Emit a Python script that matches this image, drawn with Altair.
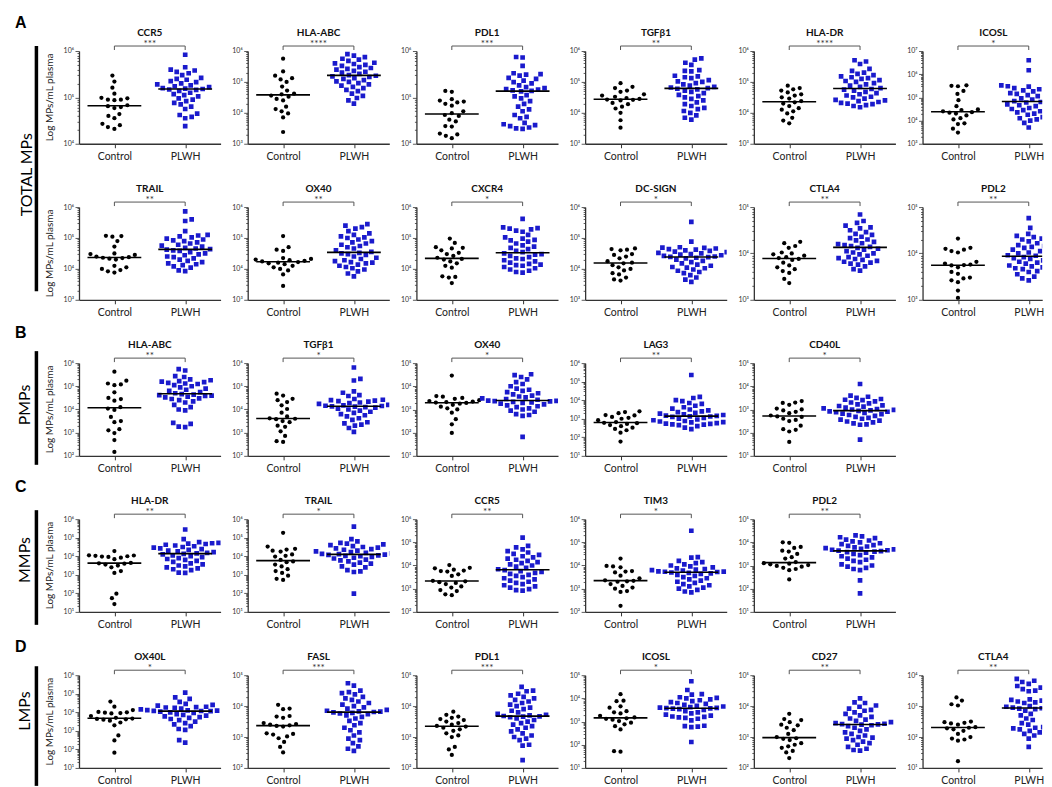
import altair as alt
import pandas as pd

W, H = 142, 93
W_LAST = 120          # rightmost column is cut at the page edge, as in the figure
PX_PER_UNIT = W / 2
BLUE = "#1a1acc"
FONT = "Lato"
SUP = "⁰¹²³⁴⁵⁶⁷⁸⁹"

# ---- values (log10 of MPs/mL plasma) ----
# A: total MPs, row 1
A_CCR5_C = [5.47, 5.34, 5.21, 5.08, 4.99, 4.98, 4.95, 4.95, 4.94, 4.83, 4.81, 4.79, 4.77, 4.64, 4.60, 4.55, 4.43, 4.40, 4.36, 4.32]
A_CCR5_P = [5.92, 5.65, 5.60, 5.58, 5.55, 5.52, 5.48, 5.42, 5.40, 5.38, 5.35, 5.33, 5.30, 5.28, 5.26, 5.24, 5.22, 5.20, 5.19, 5.18,
            5.17, 5.16, 5.14, 5.10, 5.07, 5.05, 5.02, 4.98, 4.95, 4.92, 4.88, 4.85, 4.80, 4.75, 4.65, 4.62, 4.58, 4.55, 4.38]
A_HLAABC_C = [5.75, 5.34, 5.20, 5.12, 5.08, 5.00, 4.85, 4.72, 4.62, 4.60, 4.56, 4.52, 4.45, 4.40, 4.20, 4.12, 4.05, 3.98, 3.85, 3.38]
A_HLAABC_P = [5.90, 5.85, 5.80, 5.75, 5.72, 5.68, 5.62, 5.60, 5.58, 5.55, 5.52, 5.48, 5.45, 5.42, 5.40, 5.36, 5.33, 5.30, 5.26, 5.22,
              5.20, 5.18, 5.16, 5.12, 5.10, 5.06, 5.02, 5.00, 4.96, 4.92, 4.88, 4.84, 4.80, 4.74, 4.70, 4.62, 4.55, 4.48, 4.40, 4.30]
A_PDL1_C = [5.14, 5.12, 4.96, 4.93, 4.91, 4.89, 4.86, 4.82, 4.70, 4.66, 4.62, 4.60, 4.52, 4.48, 4.38, 4.37, 4.22, 4.20, 4.17, 4.12]
A_PDL1_P = [5.87, 5.86, 5.68, 5.52, 5.50, 5.49, 5.47, 5.42, 5.40, 5.36, 5.33, 5.30, 5.26, 5.22, 5.20, 5.18, 5.17, 5.15, 5.14, 5.13,
            5.05, 5.02, 4.98, 4.92, 4.86, 4.80, 4.74, 4.70, 4.62, 4.58, 4.55, 4.45, 4.42, 4.40, 4.38, 4.35, 4.33, 4.32]
A_TGFB1_C = [4.96, 4.84, 4.80, 4.72, 4.68, 4.60, 4.56, 4.52, 4.48, 4.45, 4.43, 4.42, 4.40, 4.32, 4.28, 4.20, 4.14, 4.00, 3.76, 3.52]
A_TGFB1_P = [5.76, 5.72, 5.62, 5.55, 5.38, 5.36, 5.34, 5.20, 5.18, 5.15, 5.12, 5.06, 5.02, 5.00, 4.96, 4.92, 4.88, 4.84, 4.82, 4.80,
             4.78, 4.76, 4.72, 4.68, 4.64, 4.58, 4.54, 4.50, 4.45, 4.40, 4.34, 4.28, 4.22, 4.16, 4.12, 4.06, 4.00, 3.92, 3.84, 3.78]
A_HLADR_C = [4.88, 4.80, 4.76, 4.72, 4.66, 4.60, 4.56, 4.50, 4.46, 4.38, 4.34, 4.30, 4.22, 4.15, 4.10, 4.05, 3.98, 3.84, 3.75, 3.66]
A_HLADR_P = [5.70, 5.66, 5.58, 5.42, 5.36, 5.30, 5.26, 5.22, 5.18, 5.15, 5.12, 5.10, 5.06, 5.03, 5.00, 4.96, 4.92, 4.88, 4.84, 4.80,
             4.77, 4.75, 4.72, 4.68, 4.64, 4.60, 4.56, 4.52, 4.50, 4.46, 4.42, 4.40, 4.38, 4.35, 4.32, 4.30, 4.28, 4.25, 4.22, 4.18]
A_ICOSL_C = [5.52, 5.50, 5.48, 5.28, 5.15, 4.88, 4.62, 4.48, 4.45, 4.40, 4.36, 4.34, 4.30, 4.22, 4.10, 4.05, 3.88, 3.85, 3.65, 3.48]
A_ICOSL_P = [6.60, 6.17, 5.52, 5.50, 5.48, 5.46, 5.44, 5.40, 5.35, 5.30, 5.26, 5.22, 5.18, 5.15, 5.10, 5.05, 5.00, 4.96, 4.90, 4.84,
             4.80, 4.78, 4.74, 4.70, 4.66, 4.62, 4.58, 4.54, 4.50, 4.45, 4.40, 4.35, 4.30, 4.25, 4.15, 4.10, 4.05, 4.00, 3.90, 3.70]
# A: total MPs, row 2
A_TRAIL_C = [5.07, 5.06, 5.04, 4.90, 4.72, 4.50, 4.48, 4.45, 4.40, 4.38, 4.36, 4.35, 4.33, 4.30, 4.10, 4.05, 4.00, 3.96, 3.92, 3.88]
A_TRAIL_P = [5.86, 5.60, 5.55, 5.22, 5.10, 5.08, 5.05, 5.02, 4.98, 4.95, 4.92, 4.90, 4.86, 4.82, 4.78, 4.75, 4.72, 4.68, 4.66, 4.64,
             4.62, 4.60, 4.58, 4.54, 4.50, 4.47, 4.44, 4.40, 4.38, 4.34, 4.30, 4.26, 4.22, 4.18, 4.15, 4.12, 4.08, 4.04, 3.95, 3.93]
A_OX40_C = [5.06, 4.70, 4.62, 4.58, 4.35, 4.32, 4.30, 4.28, 4.26, 4.24, 4.22, 4.20, 4.18, 4.15, 4.10, 4.05, 4.00, 3.95, 3.82, 3.45]
A_OX40_P = [5.45, 5.40, 5.35, 5.30, 5.22, 5.15, 5.10, 5.05, 5.02, 5.00, 4.95, 4.90, 4.86, 4.82, 4.78, 4.74, 4.70, 4.66, 4.60, 4.55,
            4.52, 4.50, 4.48, 4.45, 4.40, 4.36, 4.32, 4.28, 4.25, 4.22, 4.20, 4.18, 4.14, 4.10, 4.06, 4.02, 3.98, 3.92, 3.85, 3.76]
A_CXCR4_C = [4.98, 4.84, 4.70, 4.68, 4.66, 4.60, 4.52, 4.48, 4.42, 4.36, 4.32, 4.30, 4.24, 4.18, 4.10, 4.04, 3.76, 3.74, 3.72, 3.54]
A_CXCR4_P = [5.62, 5.34, 5.32, 5.30, 5.28, 5.24, 5.20, 5.10, 5.02, 4.98, 4.94, 4.92, 4.88, 4.82, 4.76, 4.72, 4.68, 4.64, 4.58, 4.54,
             4.50, 4.48, 4.46, 4.42, 4.38, 4.34, 4.32, 4.28, 4.24, 4.20, 4.16, 4.14, 4.12, 4.10, 4.06, 4.02, 3.98, 3.94, 3.90, 3.88]
A_DCSIGN_C = [4.66, 4.64, 4.62, 4.60, 4.48, 4.45, 4.40, 4.34, 4.25, 4.20, 4.18, 4.12, 4.05, 4.00, 3.95, 3.86, 3.82, 3.72, 3.66, 3.62]
A_DCSIGN_P = [5.52, 4.88, 4.70, 4.69, 4.68, 4.66, 4.64, 4.62, 4.60, 4.58, 4.56, 4.54, 4.52, 4.50, 4.48, 4.46, 4.44, 4.42, 4.40, 4.39,
              4.38, 4.36, 4.34, 4.30, 4.26, 4.22, 4.18, 4.14, 4.10, 4.06, 4.04, 4.02, 3.98, 3.94, 3.90, 3.86, 3.80, 3.72, 3.65, 3.58]
A_CTLA4_C = [4.25, 4.22, 4.16, 4.12, 4.02, 4.00, 3.98, 3.95, 3.92, 3.90, 3.88, 3.86, 3.80, 3.74, 3.70, 3.66, 3.62, 3.58, 3.45, 3.36]
A_CTLA4_P = [4.84, 4.70, 4.66, 4.60, 4.56, 4.54, 4.50, 4.46, 4.42, 4.40, 4.36, 4.33, 4.30, 4.28, 4.25, 4.22, 4.20, 4.18, 4.16, 4.14,
             4.12, 4.10, 4.08, 4.05, 4.02, 4.00, 3.98, 3.95, 3.92, 3.90, 3.88, 3.86, 3.84, 3.82, 3.80, 3.78, 3.76, 3.72, 3.66, 3.63]
A_PDL2_C = [4.32, 4.12, 4.10, 4.08, 4.05, 4.02, 3.82, 3.78, 3.76, 3.75, 3.74, 3.70, 3.60, 3.56, 3.48, 3.46, 3.42, 3.38, 3.20, 3.04]
A_PDL2_P = [4.76, 4.55, 4.42, 4.38, 4.35, 4.32, 4.30, 4.26, 4.22, 4.18, 4.16, 4.14, 4.12, 4.08, 4.05, 4.02, 4.00, 3.98, 3.96, 3.95,
            3.93, 3.92, 3.90, 3.88, 3.85, 3.82, 3.80, 3.78, 3.76, 3.74, 3.72, 3.70, 3.68, 3.66, 3.62, 3.60, 3.55, 3.50, 3.46, 3.42]
# B: PMPs
B_HLAABC_C = [5.63, 5.24, 5.12, 5.08, 5.05, 4.74, 4.50, 4.45, 4.38, 4.10, 4.04, 3.98, 3.68, 3.50, 3.45, 3.15, 3.10, 2.98, 2.68, 2.17]
B_HLAABC_P = [5.74, 5.68, 5.44, 5.40, 5.30, 5.26, 5.22, 5.20, 5.18, 5.15, 5.12, 5.10, 5.05, 5.00, 4.95, 4.90, 4.85, 4.80, 4.75, 4.70,
              4.66, 4.64, 4.62, 4.60, 4.58, 4.55, 4.52, 4.48, 4.45, 4.40, 4.35, 4.30, 4.20, 4.10, 4.00, 3.96, 3.42, 3.38, 3.26, 3.24]
B_TGFB1_C = [4.68, 4.60, 4.46, 4.40, 4.32, 4.18, 4.02, 3.86, 3.70, 3.62, 3.60, 3.58, 3.50, 3.45, 3.30, 3.25, 3.06, 2.86, 2.63, 2.60]
B_TGFB1_P = [5.81, 5.32, 5.25, 4.78, 4.72, 4.62, 4.58, 4.45, 4.42, 4.40, 4.38, 4.36, 4.34, 4.30, 4.28, 4.24, 4.20, 4.18, 4.16, 4.15,
             4.13, 4.12, 4.10, 4.08, 4.04, 4.00, 3.95, 3.90, 3.85, 3.80, 3.75, 3.70, 3.62, 3.55, 3.45, 3.40, 3.35, 3.30, 3.20, 3.03]
B_OX40_C = [4.46, 3.58, 3.55, 3.50, 3.46, 3.40, 3.36, 3.34, 3.32, 3.30, 3.28, 3.25, 3.20, 3.12, 3.05, 3.00, 2.86, 2.58, 2.36, 1.99]
B_OX40_P = [4.52, 4.48, 4.40, 4.30, 4.18, 4.10, 4.00, 3.90, 3.85, 3.80, 3.75, 3.70, 3.65, 3.60, 3.56, 3.52, 3.48, 3.45, 3.42, 3.40,
            3.38, 3.37, 3.36, 3.35, 3.33, 3.30, 3.28, 3.25, 3.22, 3.18, 3.14, 3.10, 3.05, 3.00, 2.95, 2.90, 2.80, 2.76, 2.72, 1.82]
B_LAG3_C = [3.40, 3.36, 3.30, 3.20, 3.18, 3.10, 3.05, 3.00, 2.92, 2.82, 2.78, 2.76, 2.72, 2.66, 2.60, 2.52, 2.45, 2.38, 2.25, 1.77]
B_LAG3_P = [5.36, 4.18, 4.12, 4.00, 3.95, 3.85, 3.80, 3.70, 3.62, 3.55, 3.50, 3.45, 3.40, 3.36, 3.32, 3.28, 3.24, 3.20, 3.17, 3.15,
            3.13, 3.12, 3.10, 3.05, 3.00, 2.96, 2.92, 2.88, 2.85, 2.82, 2.80, 2.76, 2.74, 2.72, 2.70, 2.68, 2.66, 2.60, 2.52, 2.44]
B_CD40L_C = [3.36, 3.30, 3.28, 3.20, 3.04, 3.00, 2.96, 2.90, 2.84, 2.74, 2.70, 2.68, 2.60, 2.55, 2.50, 2.30, 2.15, 2.12, 2.05, 1.60]
B_CD40L_P = [4.10, 3.60, 3.55, 3.50, 3.45, 3.42, 3.40, 3.35, 3.30, 3.26, 3.22, 3.18, 3.15, 3.12, 3.08, 3.05, 3.02, 3.00, 2.98, 2.96,
             2.94, 2.92, 2.90, 2.88, 2.85, 2.82, 2.80, 2.76, 2.72, 2.68, 2.64, 2.60, 2.56, 2.52, 2.48, 2.44, 2.40, 2.36, 2.34, 1.70]
# C: MMPs
C_HLADR_C = [4.28, 4.05, 4.04, 4.02, 4.00, 3.98, 3.96, 3.92, 3.84, 3.64, 3.62, 3.60, 3.55, 3.50, 3.40, 3.20, 3.10, 1.98, 1.74, 1.42]
C_HLADR_P = [5.44, 4.92, 4.76, 4.72, 4.70, 4.68, 4.66, 4.62, 4.58, 4.54, 4.50, 4.46, 4.42, 4.38, 4.34, 4.30, 4.26, 4.22, 4.18, 4.15,
             4.13, 4.10, 4.05, 4.00, 3.95, 3.90, 3.85, 3.80, 3.75, 3.70, 3.62, 3.56, 3.50, 3.45, 3.40, 3.35, 3.30, 3.25, 3.12, 3.10]
C_TRAIL_C = [5.26, 4.52, 4.40, 4.36, 4.30, 4.25, 4.10, 4.02, 3.98, 3.80, 3.72, 3.68, 3.55, 3.45, 3.30, 3.20, 3.10, 2.95, 2.78, 2.72]
C_TRAIL_P = [5.60, 4.92, 4.80, 4.72, 4.68, 4.64, 4.60, 4.55, 4.50, 4.46, 4.42, 4.38, 4.35, 4.30, 4.26, 4.22, 4.18, 4.15, 4.13, 4.11,
             4.09, 4.07, 4.05, 4.02, 4.00, 3.96, 3.92, 3.88, 3.82, 3.78, 3.72, 3.66, 3.60, 3.55, 3.45, 3.40, 3.25, 3.18, 3.15, 1.98]
C_CCR5_C = [4.02, 3.90, 3.88, 3.82, 3.78, 3.76, 3.74, 3.62, 3.55, 3.34, 3.32, 3.28, 3.25, 3.20, 3.10, 3.05, 2.94, 2.90, 2.76, 2.72]
C_CCR5_P = [5.20, 4.85, 4.78, 4.70, 4.62, 4.56, 4.50, 4.46, 4.40, 4.35, 4.30, 4.25, 4.20, 4.15, 4.10, 4.05, 4.00, 3.95, 3.90, 3.84,
            3.80, 3.76, 3.72, 3.68, 3.64, 3.60, 3.55, 3.50, 3.45, 3.40, 3.35, 3.30, 3.25, 3.20, 3.15, 3.10, 3.05, 2.98, 2.94, 2.92]
C_TIM3_C = [4.30, 3.98, 3.96, 3.92, 3.76, 3.74, 3.70, 3.56, 3.45, 3.36, 3.34, 3.32, 3.30, 3.20, 3.12, 3.05, 3.00, 2.90, 2.86, 2.26]
C_TIM3_P = [5.50, 4.36, 4.34, 4.20, 4.15, 4.10, 4.05, 4.00, 3.96, 3.92, 3.88, 3.85, 3.82, 3.80, 3.78, 3.76, 3.75, 3.74, 3.73, 3.72,
            3.70, 3.68, 3.66, 3.64, 3.60, 3.55, 3.50, 3.45, 3.40, 3.35, 3.30, 3.25, 3.20, 3.15, 3.10, 3.05, 3.00, 2.95, 2.88, 2.84]
C_PDL2_C = [4.00, 3.98, 3.80, 3.76, 3.64, 3.60, 3.50, 3.36, 3.30, 3.15, 3.10, 3.08, 3.05, 3.02, 2.98, 2.95, 2.90, 2.85, 2.80, 2.40]
C_PDL2_P = [4.30, 4.26, 4.22, 4.18, 4.12, 4.08, 4.04, 4.00, 3.96, 3.92, 3.88, 3.85, 3.82, 3.78, 3.75, 3.72, 3.70, 3.68, 3.66, 3.64,
            3.62, 3.60, 3.58, 3.55, 3.50, 3.45, 3.40, 3.35, 3.30, 3.25, 3.20, 3.15, 3.05, 3.00, 2.95, 2.90, 2.85, 2.80, 2.36, 1.80]
# D: LMPs
D_OX40L_C = [4.58, 4.30, 4.12, 4.02, 4.00, 3.98, 3.96, 3.94, 3.80, 3.70, 3.66, 3.64, 3.62, 3.60, 3.55, 3.45, 3.30, 2.75, 2.48, 1.82]
D_OX40L_P = [5.06, 4.80, 4.72, 4.56, 4.45, 4.40, 4.36, 4.33, 4.30, 4.28, 4.26, 4.24, 4.20, 4.16, 4.14, 4.12, 4.10, 4.09, 4.08, 4.07,
             4.06, 4.04, 4.00, 3.96, 3.90, 3.86, 3.82, 3.78, 3.74, 3.70, 3.64, 3.58, 3.50, 3.42, 3.35, 3.25, 3.10, 3.05, 2.50, 2.36]
D_FASL_C = [4.04, 3.92, 3.90, 3.68, 3.66, 3.62, 3.45, 3.42, 3.40, 3.38, 3.36, 3.34, 3.12, 3.10, 3.08, 3.02, 2.96, 2.84, 2.68, 2.50]
D_FASL_P = [4.74, 4.66, 4.50, 4.45, 4.42, 4.38, 4.30, 4.25, 4.20, 4.15, 4.10, 4.05, 4.00, 3.96, 3.92, 3.88, 3.85, 3.83, 3.82, 3.81,
            3.80, 3.78, 3.76, 3.74, 3.70, 3.65, 3.60, 3.52, 3.45, 3.38, 3.30, 3.22, 3.15, 3.05, 2.95, 2.90, 2.80, 2.70, 2.62, 2.55]
D_PDL1_C = [3.82, 3.72, 3.66, 3.62, 3.58, 3.55, 3.50, 3.45, 3.40, 3.36, 3.34, 3.30, 3.25, 3.20, 3.12, 3.05, 3.00, 2.68, 2.60, 2.42]
D_PDL1_P = [4.62, 4.50, 4.48, 4.40, 4.35, 4.30, 4.25, 4.20, 4.15, 4.10, 4.05, 4.00, 3.95, 3.90, 3.85, 3.80, 3.75, 3.72, 3.70, 3.68,
            3.67, 3.66, 3.64, 3.60, 3.55, 3.50, 3.45, 3.40, 3.35, 3.30, 3.25, 3.18, 3.12, 3.05, 3.00, 2.95, 2.90, 2.75, 2.72, 2.25]
D_ICOSL_C = [4.18, 3.90, 3.88, 3.66, 3.60, 3.45, 3.40, 3.35, 3.25, 3.18, 3.14, 3.12, 3.08, 3.02, 2.95, 2.88, 2.80, 2.66, 1.72, 1.70]
D_ICOSL_P = [4.74, 4.36, 4.18, 4.16, 4.05, 4.02, 4.00, 3.96, 3.92, 3.88, 3.84, 3.80, 3.76, 3.72, 3.68, 3.65, 3.62, 3.60, 3.59, 3.58,
             3.57, 3.56, 3.54, 3.50, 3.45, 3.40, 3.35, 3.30, 3.26, 3.22, 3.20, 3.18, 3.16, 3.12, 3.05, 2.82, 2.80, 2.78, 2.76, 2.12]
D_CD27_C = [3.75, 3.58, 3.55, 3.48, 3.40, 3.38, 3.30, 3.22, 3.10, 3.00, 2.96, 2.94, 2.90, 2.80, 2.75, 2.70, 2.65, 2.55, 2.50, 2.32]
D_CD27_P = [4.25, 4.12, 4.10, 4.02, 3.98, 3.92, 3.88, 3.85, 3.80, 3.75, 3.70, 3.65, 3.60, 3.56, 3.52, 3.48, 3.45, 3.43, 3.42, 3.41,
            3.40, 3.38, 3.35, 3.30, 3.25, 3.20, 3.15, 3.10, 3.05, 3.00, 2.98, 2.95, 2.90, 2.85, 2.80, 2.75, 2.68, 2.62, 2.58, 2.56]
D_CTLA4_C = [3.28, 3.18, 3.06, 3.02, 2.50, 2.48, 2.46, 2.44, 2.40, 2.32, 2.30, 2.28, 2.25, 2.20, 2.10, 2.00, 1.95, 1.92, 1.88, 1.22]
D_CTLA4_P = [3.88, 3.82, 3.78, 3.72, 3.65, 3.60, 3.55, 3.50, 3.48, 3.22, 3.20, 3.18, 3.15, 3.12, 3.10, 3.05, 3.00, 2.98, 2.96, 2.95,
             2.93, 2.92, 2.90, 2.85, 2.75, 2.70, 2.60, 2.55, 2.45, 2.40, 2.32, 2.30, 2.28, 2.25, 2.20, 2.15, 2.10, 2.05, 1.95, 1.68]

# panel: title, significance, y-axis decades (low, high), control, PLWH
ROW_A1 = [("CCR5", "***", 4, 6, A_CCR5_C, A_CCR5_P),
          ("HLA-ABC", "****", 3, 6, A_HLAABC_C, A_HLAABC_P),
          ("PDL1", "***", 4, 6, A_PDL1_C, A_PDL1_P),
          ("TGFβ1", "**", 3, 6, A_TGFB1_C, A_TGFB1_P),
          ("HLA-DR", "****", 3, 6, A_HLADR_C, A_HLADR_P),
          ("ICOSL", "*", 3, 7, A_ICOSL_C, A_ICOSL_P)]
ROW_A2 = [("TRAIL", "**", 3, 6, A_TRAIL_C, A_TRAIL_P),
          ("OX40", "**", 3, 6, A_OX40_C, A_OX40_P),
          ("CXCR4", "*", 3, 6, A_CXCR4_C, A_CXCR4_P),
          ("DC-SIGN", "*", 3, 6, A_DCSIGN_C, A_DCSIGN_P),
          ("CTLA4", "**", 3, 5, A_CTLA4_C, A_CTLA4_P),
          ("PDL2", "**", 3, 5, A_PDL2_C, A_PDL2_P)]
ROW_B = [("HLA-ABC", "**", 2, 6, B_HLAABC_C, B_HLAABC_P),
         ("TGFβ1", "*", 2, 6, B_TGFB1_C, B_TGFB1_P),
         ("OX40", "*", 1, 5, B_OX40_C, B_OX40_P),
         ("LAG3", "**", 1, 6, B_LAG3_C, B_LAG3_P),
         ("CD40L", "*", 1, 5, B_CD40L_C, B_CD40L_P)]
ROW_C = [("HLA-DR", "**", 1, 6, C_HLADR_C, C_HLADR_P),
         ("TRAIL", "*", 1, 6, C_TRAIL_C, C_TRAIL_P),
         ("CCR5", "**", 2, 6, C_CCR5_C, C_CCR5_P),
         ("TIM3", "*", 2, 6, C_TIM3_C, C_TIM3_P),
         ("PDL2", "**", 1, 5, C_PDL2_C, C_PDL2_P)]
ROW_D = [("OX40L", "*", 1, 6, D_OX40L_C, D_OX40L_P),
         ("FASL", "***", 2, 5, D_FASL_C, D_FASL_P),
         ("PDL1", "***", 2, 5, D_PDL1_C, D_PDL1_P),
         ("ICOSL", "*", 1, 5, D_ICOSL_C, D_ICOSL_P),
         ("CD27", "**", 2, 5, D_CD27_C, D_CD27_P),
         ("CTLA4", "**", 1, 4, D_CTLA4_C, D_CTLA4_P)]

GROUPS = ["Control", "PLWH"]
Y_TITLE = "Log MPs/mL plasma"
SP_ROW, SP_COL, LABEL_W = 63.5, 27.2, 41


def swarm(logs, lo, hi, d=6.3, step=0.5):
    """Beeswarm offsets (pixels) so that points of one group do not overlap."""
    order = sorted(range(len(logs)), key=lambda i: logs[i])
    placed, off = [], [0.0] * len(logs)
    for n, i in enumerate(order):
        py = (logs[i] - lo) / (hi - lo) * H
        k = 0
        while True:
            if k == 0:
                cands = [0.0]
            elif n % 2 == 0:
                cands = [k * step, -k * step]
            else:
                cands = [-k * step, k * step]
            hit = None
            for c in cands:
                if all((c - px) ** 2 + (py - qy) ** 2 >= d * d for px, qy in placed):
                    hit = c
                    break
            if hit is not None:
                break
            k += 1
        placed.append((hit, py))
        off[i] = hit
    return off


MAJOR = "abs(log(datum.value)/LN10 - round(log(datum.value)/LN10)) < 0.01"


def panel(title, stars, lo, hi, ctrl, plwh, width=W):
    recs = []
    for gi, vals in enumerate((ctrl, plwh)):
        offs = swarm(vals, lo, hi)
        for v, o in zip(vals, offs):
            recs.append({"grp": GROUPS[gi], "gi": gi, "value": 10 ** v,
                         "xp": gi + 0.5 + o / PX_PER_UNIT})
    df = pd.DataFrame(recs)
    yvals = sorted([10.0 ** k for k in range(lo, hi + 1)] +
                   [m * 10.0 ** k for k in range(lo, hi) for m in range(2, 10)])
    xs = alt.Scale(domain=[0, width / PX_PER_UNIT], nice=False, zero=False)
    ys = alt.Scale(type="log", domain=[10.0 ** lo, 10.0 ** hi], nice=False)
    xax = alt.Axis(values=[0.5, 1.5], labelExpr="datum.value < 1 ? 'Control' : 'PLWH'",
                   title=None, grid=False, tickSize=4, labelFontSize=10.5, labelPadding=4,
                   domainColor="#333", domainWidth=1.3, tickColor="#333", labelColor="#222",
                   labelFont=FONT, labelAngle=0)
    yax = alt.Axis(values=yvals,
                   labelExpr=(f"{MAJOR} ? '10' + substring('{SUP}', round(log(datum.value)/LN10), "
                              "round(log(datum.value)/LN10) + 1) : ''"),
                   tickSize={"condition": {"test": MAJOR, "value": 4}, "value": 2},
                   title=None, grid=False, labelFontSize=7, labelPadding=1.5,
                   domainColor="#333", domainWidth=1.3, tickColor="#333", tickWidth=0.8,
                   labelColor="#333", labelFont=FONT, labelOverlap=False, labelFlush=False)
    X = lambda f: alt.X(f, scale=xs, axis=xax)
    Y = lambda f: alt.Y(f, scale=ys, axis=yax)
    base = alt.Chart(df)
    c_pts = base.transform_filter("datum.gi == 0").mark_circle(
        size=18, color="black", opacity=1, clip=True).encode(x=X("xp:Q"), y=Y("value:Q"))
    p_pts = base.transform_filter("datum.gi == 1").mark_square(
        size=22, color=BLUE, opacity=1, clip=True).encode(x=X("xp:Q"), y=Y("value:Q"))
    med = base.transform_aggregate(med="median(value)", groupby=["gi"]).transform_calculate(
        x1="datum.gi + 0.5 - 0.38", x2="datum.gi + 0.5 + 0.38").mark_rule(
        color="black", strokeWidth=1.6, clip=True).encode(x=X("x1:Q"), x2="x2:Q", y=Y("med:Q"))
    ann = pd.DataFrame({"x1": [0.5], "x2": [1.5], "xm": [1.0], "stars": [stars], "title": [title]})
    ends = pd.DataFrame({"xe": [0.5, 1.5]})
    br = alt.Chart(ann).mark_rule(color="#555", strokeWidth=1).encode(
        x=X("x1:Q"), x2="x2:Q", y=alt.value(-5))
    br_ends = alt.Chart(ends).mark_rule(color="#555", strokeWidth=1).encode(
        x=X("xe:Q"), y=alt.value(-5), y2=alt.value(-1))
    st = alt.Chart(ann).mark_text(fontSize=10, color="#333", baseline="alphabetic").encode(
        x=X("xm:Q"), y=alt.value(-4), text="stars:N")
    tt = alt.Chart(ann).mark_text(fontSize=10, fontWeight="bold", color="#111",
                                  baseline="alphabetic").encode(
        x=X("xm:Q"), y=alt.value(-15), text="title:N")
    return alt.layer(c_pts, p_pts, med, br, br_ends, st, tt).properties(width=width, height=H)


def label_col(letter, section, letter_y, bar_top, bar_bot, sec_x, sec_y, ytitle_ys, anchor=False):
    d = pd.DataFrame({"letter": [letter], "section": [section], "yt": [Y_TITLE]})
    b = alt.Chart(d)
    layers = []
    if anchor:
        layers.append(b.mark_rule(opacity=0).encode(x=alt.value(0), y=alt.value(-42), y2=alt.value(-41)))
    layers.append(b.mark_text(font="Liberation Sans", fontWeight="bold", fontSize=16, align="left",
                              baseline="alphabetic", color="black").encode(
        text="letter:N", x=alt.value(4), y=alt.value(letter_y)))
    layers.append(b.mark_rule(strokeWidth=3.5, color="black").encode(
        x=alt.value(25.5), y=alt.value(bar_top), y2=alt.value(bar_bot)))
    layers.append(b.mark_text(fontSize=16, angle=270, baseline="middle", color="black").encode(
        text="section:N", x=alt.value(sec_x), y=alt.value(sec_y)))
    for yy in ytitle_ys:
        layers.append(b.mark_text(fontSize=10, angle=270, baseline="middle", color="#222").encode(
            text="yt:N", x=alt.value(39.5), y=alt.value(yy)))
    return alt.layer(*layers).properties(width=LABEL_W, height=H)


def blank(width):
    d = pd.DataFrame({"a": [0]})
    return alt.Chart(d).mark_point(opacity=0).encode(
        x=alt.value(0), y=alt.value(0)).properties(width=width, height=H)


def grid_row(first, panels):
    cells = [first]
    for j, p in enumerate(panels):
        cells.append(panel(*p, width=(W_LAST if j == 5 else W)))
    cells += [blank(W) for _ in range(5 - len(panels))]
    if len(panels) < 6:
        cells.append(blank(W_LAST))
    return cells


items = []
items += grid_row(label_col("A", "TOTAL MPs", -23, -5, 241, 16.5, 124,
                            [H / 2, H + SP_ROW + H / 2], anchor=True), ROW_A1)
items += grid_row(blank(LABEL_W), ROW_A2)
items += grid_row(label_col("B", "PMPs", -25, -12, 102, 14, 42, [H / 2]), ROW_B)
items += grid_row(label_col("C", "MMPs", -27, -9, 106, 14.5, 41, [H / 2]), ROW_C)
items += grid_row(label_col("D", "LMPs", -23, -9, 111, 14.5, 36, [H / 2]), ROW_D)

chart = alt.concat(*items, columns=7, spacing={"row": SP_ROW, "column": SP_COL},
                   bounds="flush", align="each").properties(
    padding={"left": 0, "top": 0, "right": 0, "bottom": 0}, background="white"
).configure_view(stroke=None).configure_text(font=FONT)

chart.save("out.html", embed_options={"renderer": "svg", "actions": False})
